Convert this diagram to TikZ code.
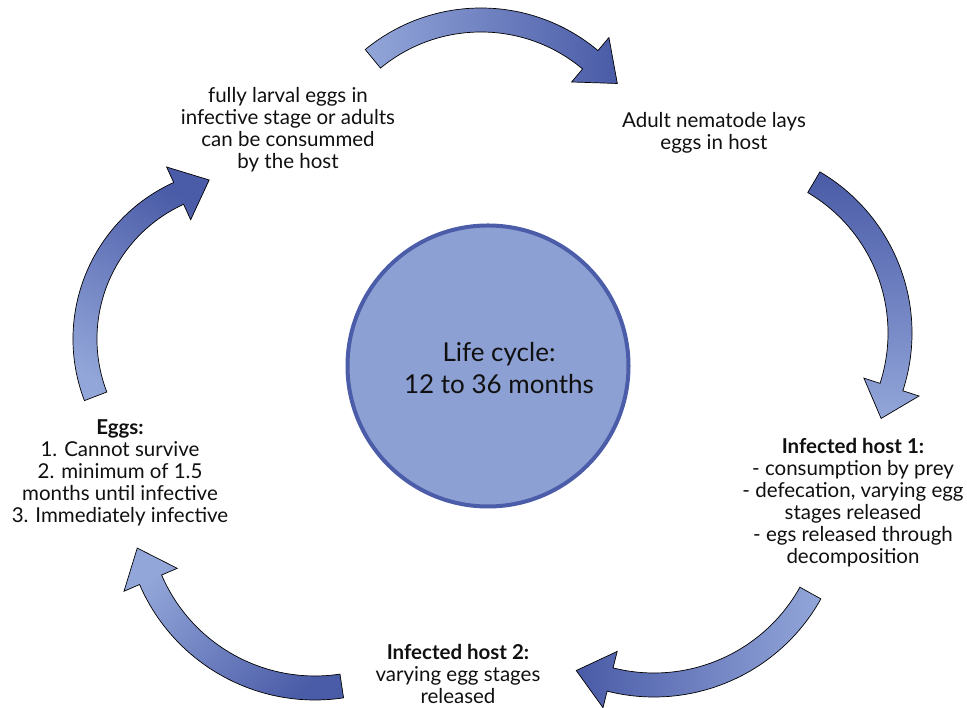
\documentclass[tikz,border=0pt]{standalone}
\usepackage{fontspec}
\setmainfont{Lato}
\usetikzlibrary{calc}
\definecolor{lightblue}{HTML}{93A6D9}
\definecolor{darkblue}{HTML}{4A5BA7}
\definecolor{circfill}{HTML}{8DA0D3}
\definecolor{circborder}{HTML}{4B5CA9}
\definecolor{txt}{HTML}{101010}

% #1 centre, #2 radius, #3 tail angle, #4 head base angle, #5 tip angle, #6 shading
\newcommand\cyclearrow[6]{%
  \pgfmathsetmacro\arcRo{#2+12}\pgfmathsetmacro\arcRi{#2-12}%
  \pgfmathsetmacro\arcBo{#2+29}\pgfmathsetmacro\arcBi{#2-29}\pgfmathsetmacro\arcRt{#2+3}%
  \shade[#6, arrowshape]
   ($#1+(#3:\arcRo)$) arc[start angle=#3, end angle=#4, radius=\arcRo]
   -- ($#1+(#4:\arcBo)$) -- ($#1+(#5:\arcRt)$) -- ($#1+(#4:\arcBi)$) -- ($#1+(#4:\arcRi)$)
   arc[start angle=#4, end angle=#3, radius=\arcRi] -- cycle;
}

\begin{document}
\begin{tikzpicture}[x=1pt,y=1pt,
  arrowshape/.style={draw=black, line width=0.7pt, line join=miter},
  lbl/.style={align=center, font=\fontsize{20.5}{22}\selectfont, text=txt, inner sep=0pt},
  bigcircle/.style={circle, draw=circborder, line width=4pt, fill=circfill, minimum size=281pt, inner sep=0pt}]
\useasboundingbox (0,0) rectangle (967,708);

% central circle
\node[bigcircle] (cycle) at (488,342) {};
\node[lbl, font=\fontsize{26}{32}\selectfont] (cycletext) at (499,340) {Life cycle:\\12 to 36 months};

% curved arrows
\cyclearrow{(481,518)}{170}{129.5}{50}{38}{left color=lightblue, right color=darkblue}
\cyclearrow{(725,375)}{175}{59.5}{-18}{-28.7}{top color=darkblue, bottom color=lightblue}
\cyclearrow{(654,202)}{179}{-29.1}{-104.2}{-115.3}{left color=darkblue, right color=lightblue}
\cyclearrow{(315,199)}{179}{-81.4}{-156.7}{-167.6}{top color=lightblue, bottom color=darkblue, shading angle=45}
\cyclearrow{(245,369)}{160}{201}{114.5}{102.7}{top color=darkblue, bottom color=lightblue, shading angle=-30}

% texts
\node[lbl] (consumed) at (288,578) {fully larval eggs in\\infective stage or adults\\can be consummed\\by the host};
\node[lbl] (adult) at (714,575) {Adult nematode lays\\eggs in host};
\node[lbl] (host1) at (853,205) {\textbf{Infected host 1:}\\- consumption by prey\\- defecation, varying egg\\stages released\\- egs released through\\decomposition};
\node[lbl] (host2) at (458,34) {\textbf{Infected host 2:}\\varying egg stages\\released};
\node[lbl] (eggs) at (120,235) {\textbf{Eggs:}\\1. Cannot survive\\2. minimum of 1.5\\months until infective\\3. Immediately infective};
\end{tikzpicture}
\end{document}
